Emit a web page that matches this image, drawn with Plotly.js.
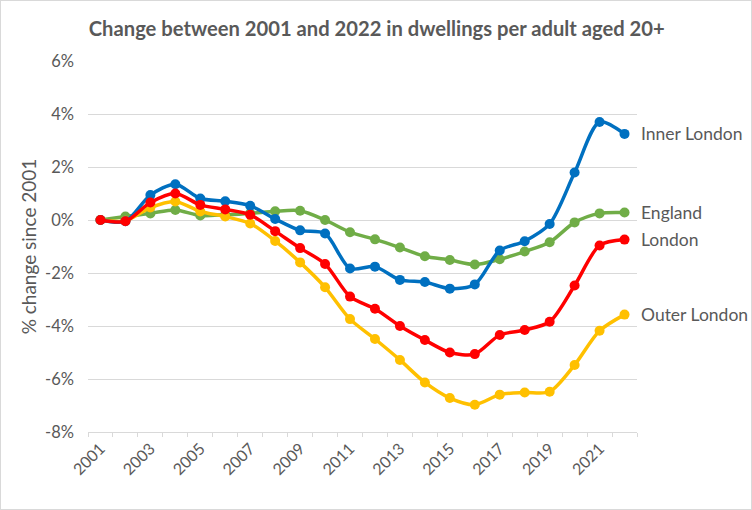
<!DOCTYPE html>
<html>
<head>
<meta charset="utf-8">
<script src="https://cdn.plot.ly/plotly-3.0.1.min.js"></script>
<style>
  html, body { margin: 0; padding: 0; background: #fff; }
  #wrap { width: 752px; height: 510px; box-sizing: border-box; border: 1px solid #d9d9d9; }
  #chart { width: 750px; height: 508px; }
</style>
</head>
<body>
<div id="wrap"><div id="chart"></div></div>
<script>
const years = ['2001','2002','2003','2004','2005','2006','2007','2008','2009','2010','2011','2012','2013','2014','2015','2016','2017','2018','2019','2020','2021','2022'];
const tickLabels = years.map((y, i) => (i % 2 === 0 ? y : ''));
const yTickVals = [-8, -6, -4, -2, 0, 2, 4, 6];
const yTickText = ['-8%', '-6%', '-4%', '-2%', '0%', '2%', '4%', '6%'];

const england     = [0, 0.13, 0.25, 0.38, 0.17, 0.20, 0.25, 0.33, 0.35, 0.00, -0.46, -0.73, -1.04, -1.37, -1.51, -1.68, -1.48, -1.19, -0.84, -0.09, 0.25, 0.28];
const outerLondon = [0, -0.03, 0.47, 0.70, 0.32, 0.13, -0.13, -0.79, -1.60, -2.54, -3.74, -4.49, -5.28, -6.13, -6.72, -6.97, -6.59, -6.51, -6.48, -5.47, -4.18, -3.57];
const innerLondon = [0, -0.05, 0.94, 1.35, 0.81, 0.71, 0.54, 0.04, -0.39, -0.51, -1.83, -1.76, -2.26, -2.34, -2.59, -2.43, -1.15, -0.80, -0.15, 1.79, 3.70, 3.25];
const london      = [0, -0.05, 0.66, 1.00, 0.57, 0.40, 0.20, -0.42, -1.06, -1.66, -2.89, -3.35, -4.00, -4.53, -5.00, -5.06, -4.34, -4.15, -3.84, -2.47, -0.96, -0.74];

const seriesNames  = ['England', 'Outer London', 'Inner London', 'London'];
const seriesValues = [england, outerLondon, innerLondon, london];
const seriesColors = ['#70AD47', '#FFC000', '#0070C0', '#FF0000'];

const traces = seriesNames.map((n, i) => ({
  type: 'scatter',
  mode: 'lines+markers',
  name: n,
  x: years,
  y: seriesValues[i],
  line: { color: seriesColors[i], width: 3.5, shape: 'spline', smoothing: 0.8 },
  marker: { color: seriesColors[i], size: 10 },
  hoverinfo: 'skip'
}));

const annotations = seriesNames.map((n, i) => ({
  x: years.length - 1,
  y: seriesValues[i][seriesValues[i].length - 1],
  xref: 'x', yref: 'y',
  text: n,
  showarrow: false,
  xanchor: 'left',
  xshift: 14,
  font: { family: 'Lato, sans-serif', size: 17.5, color: '#595959' }
}));

const layout = {
  width: 750, height: 508,
  margin: { l: 87, r: 114, t: 59.5, b: 76.5 },
  paper_bgcolor: '#fff', plot_bgcolor: '#fff',
  showlegend: false,
  hovermode: false,
  title: {
    text: '<b>Change between 2001 and 2022 in dwellings per adult aged 20+</b>',
    font: { family: 'Lato, sans-serif', size: 20.2, color: '#595959' },
    x: 0.501, xanchor: 'center', y: 0.945, yanchor: 'middle', xref: 'container'
  },
  xaxis: {
    type: 'category',
    range: [-0.5, years.length - 0.5],
    tickvals: years,
    ticktext: tickLabels,
    tickson: 'boundaries',
    ticks: 'outside', ticklen: 4, tickcolor: '#d9d9d9', tickwidth: 1,
    tickangle: -45,
    showgrid: false,
    showline: true, linecolor: '#d9d9d9', linewidth: 1,
    zeroline: false,
    tickfont: { family: 'Lato, sans-serif', size: 16, color: '#595959' },
    fixedrange: true
  },
  yaxis: {
    range: [-8, 6],
    tickvals: yTickVals,
    ticktext: yTickText,
    showgrid: true, gridcolor: '#d9d9d9', gridwidth: 1,
    zeroline: false,
    showline: false,
    ticks: '',
    ticklabelstandoff: 13,
    tickfont: { family: 'Lato, sans-serif', size: 16.5, color: '#595959' },
    title: { text: '% change since 2001', font: { family: 'Lato, sans-serif', size: 19, color: '#595959' }, standoff: 3 },
    fixedrange: true
  },
  annotations: annotations
};

Plotly.newPlot('chart', traces, layout, { displayModeBar: false, staticPlot: true });
</script>
</body>
</html>
